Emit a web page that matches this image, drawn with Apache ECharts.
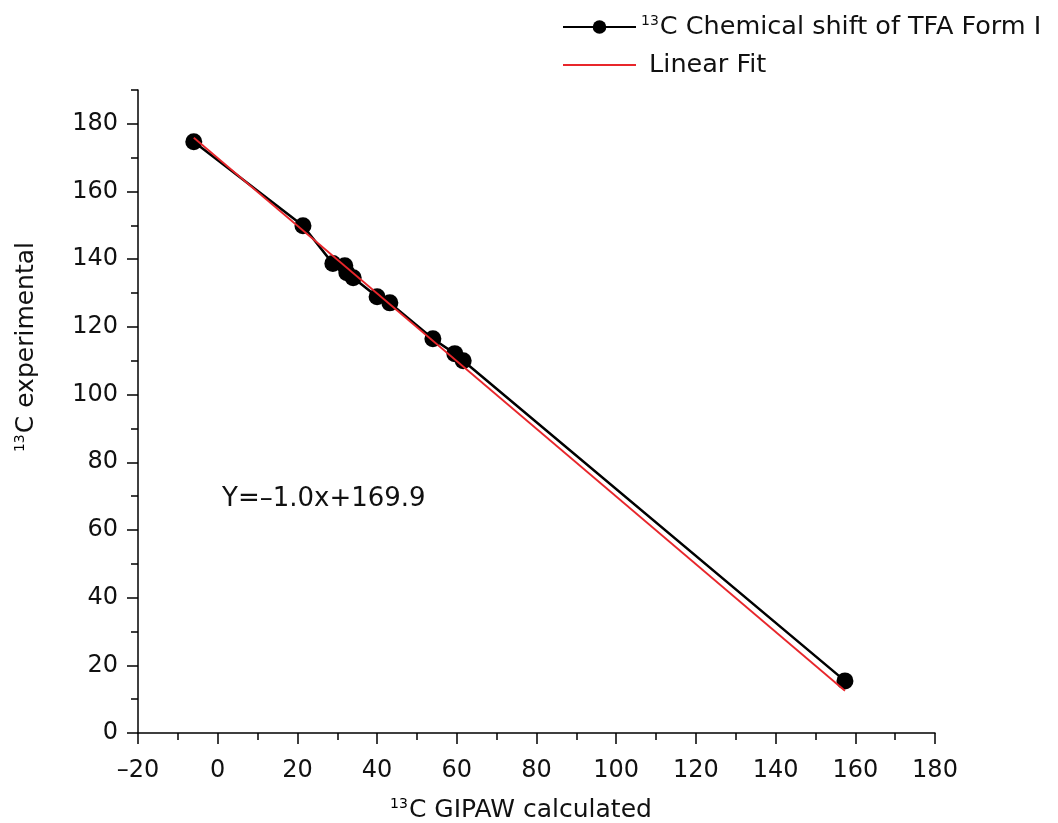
<!DOCTYPE html>
<html>
<head>
<meta charset="utf-8">
<script src="https://cdn.jsdelivr.net/npm/echarts@6/dist/echarts.min.js"></script>
<style>
  html, body { margin: 0; padding: 0; background: #fff; }
  #chart { width: 1058px; height: 823px; }
</style>
</head>
<body>
<div id="chart"></div>
<script>
  // values
  const xCalc = [-6.0, 21.4, 28.9, 31.9, 32.4, 34.0, 40.0, 43.2, 54.0, 59.5, 61.6, 157.4];
  const yExp = [174.7, 149.9, 138.7, 138.1, 136.0, 134.5, 128.9, 127.1, 116.5, 112.1, 110.0, 15.4];
  // ends of the red fit line
  const fitX = [-6.0, 157.4];
  const fitY = [175.9, 12.5];
  // ticks
  const yMajor = [0, 20, 40, 60, 80, 100, 120, 140, 160, 180];
  const yMinor = [10, 30, 50, 70, 90, 110, 130, 150, 170, 190];
  const seriesName = '13C Chemical shift of TFA Form I';
  const fitName = 'Linear Fit';
  const equation = 'Y=\u20131.0x+169.9';

  const font = 'DejaVu Sans';
  const sup = { fontSize: 14, fontFamily: font, color: '#111', padding: [0, 1, 11, 0] };

  let myChart = echarts.init(document.getElementById('chart'));

  myChart.setOption({
    animation: false,
    backgroundColor: '#fff',
    textStyle: { fontFamily: font },
    legend: {
      orient: 'vertical',
      left: 562,
      top: 14,
      padding: 0,
      itemWidth: 73,
      itemHeight: 17,
      itemGap: 12,
      data: [seriesName, { name: fitName, itemStyle: { opacity: 0 } }],
      formatter: function (name) {
        if (name.indexOf('13') === 0) {
          return '{s|13}{t|' + name.slice(2) + '}';
        }
        return '{t| ' + name + '}';
      },
      textStyle: {
        color: '#111',
        rich: {
          s: sup,
          t: { fontSize: 25.5, fontFamily: font, color: '#111', lineHeight: 30 }
        }
      }
    },
    grid: {
      left: 138,
      right: 123,
      top: 90,
      bottom: 90
    },
    xAxis: {
      type: 'value',
      min: -20,
      max: 180,
      interval: 20,
      axisLine: { show: true, lineStyle: { color: '#000', width: 1.5 } },
      axisTick: { show: true, length: 11, lineStyle: { color: '#000', width: 1.5 } },
      minorTick: { show: true, splitNumber: 2, length: 7, lineStyle: { color: '#000', width: 1.5 } },
      splitLine: { show: false },
      axisLabel: {
        fontSize: 24,
        fontFamily: font,
        color: '#111',
        margin: 26,
        formatter: function (v) { return v < 0 ? '\u2013' + Math.abs(v) : String(v); }
      }
    },
    yAxis: [
      {
        type: 'value',
        min: 0,
        max: 190,
        interval: 10,
        axisLine: { show: true, onZero: false, lineStyle: { color: '#000', width: 1.5 } },
        axisTick: { show: true, length: 11, customValues: yMajor, lineStyle: { color: '#000', width: 1.5 } },
        splitLine: { show: false },
        axisLabel: {
          fontSize: 24,
          fontFamily: font,
          color: '#111',
          margin: 20,
          customValues: yMajor
        }
      },
      {
        type: 'value',
        min: 0,
        max: 190,
        interval: 10,
        position: 'left',
        axisLine: { show: false, onZero: false },
        axisTick: { show: true, length: 7, customValues: yMinor, lineStyle: { color: '#000', width: 1.5 } },
        splitLine: { show: false },
        axisLabel: { show: false }
      }
    ],
    graphic: [
      {
        type: 'text',
        x: 26,
        y: 347,
        rotation: Math.PI / 2,
        style: {
          text: '{s|13}{t|C experimental}',
          align: 'center',
          verticalAlign: 'middle',
          rich: {
            s: sup,
            t: { fontSize: 25, fontFamily: font, fill: '#111', color: '#111' }
          }
        }
      },
      {
        type: 'text',
        x: 521,
        y: 810,
        style: {
          text: '{s|13}{t|C GIPAW calculated}',
          align: 'center',
          verticalAlign: 'middle',
          rich: {
            s: sup,
            t: { fontSize: 25, fontFamily: font, fill: '#111', color: '#111' }
          }
        }
      },
      {
        type: 'text',
        x: 222,
        y: 499,
        style: {
          text: equation,
          font: '26px "DejaVu Sans"',
          fill: '#111',
          align: 'left',
          verticalAlign: 'middle'
        }
      }
    ],
    series: [
      {
        name: seriesName,
        type: 'line',
        data: xCalc.map(function (x, i) { return [x, yExp[i]]; }),
        symbol: 'circle',
        symbolSize: 17,
        showAllSymbol: true,
        itemStyle: { color: '#000' },
        lineStyle: { color: '#000', width: 2.5 },
        z: 2
      },
      {
        name: fitName,
        type: 'line',
        data: fitX.map(function (x, i) { return [x, fitY[i]]; }),
        symbol: 'none',
        itemStyle: { color: '#e8262b' },
        lineStyle: { color: '#e8262b', width: 1.8 },
        z: 3
      }
    ]
  });
</script>
</body>
</html>
